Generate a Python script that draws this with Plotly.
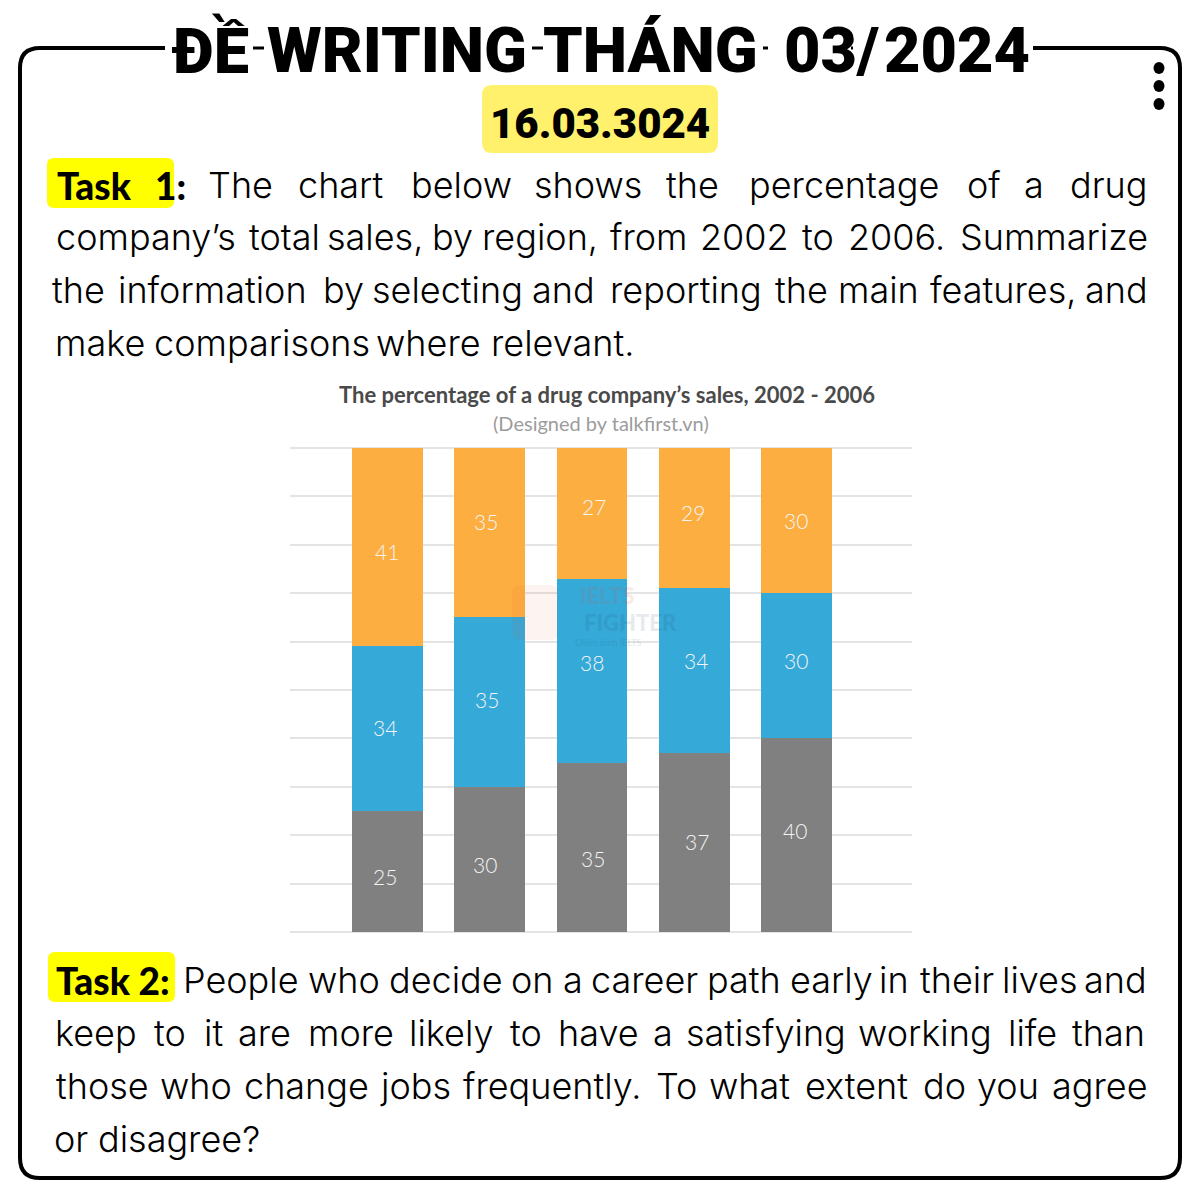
import plotly.graph_objs as go

# chart data
years = [2002, 2003, 2004, 2005, 2006]
gray_values = [25, 30, 35, 37, 40]
blue_values = [34, 35, 38, 34, 30]
orange_values = [41, 35, 27, 29, 30]
y_ticks = [0, 10, 20, 30, 40, 50, 60, 70, 80, 90, 100]

chart_title = "The percentage of a drug company’s sales, 2002 - 2006"
chart_subtitle = "(Designed by talkfirst.vn)"

# the value labels sit a bit off centre in the picture (x, y shift in pixels)
gray_shifts = [(-2, -5), (-5, -5), (1, -11), (3, 1), (-1, 5)]
blue_shifts = [(-2, 1), (-3, 3), (0, 8), (2, 10), (0, 5)]
orange_shifts = [(0, -4), (-4, 11), (2, 7), (-1, 6), (0, 0)]

# page text, word, left edge, right edge in pixels (lines are justified)
heading_words = [("ĐỀ", 173, 247), ("WRITING", 268, 525), ("THÁNG", 543, 757), ("03/", 782, 880), ("2024", 884, 1029)]

body_lines = [
    (185, [("The", 208, 272), ("chart", 298, 383), ("below", 411, 511), ("shows", 536, 640), ("the", 665, 720),
           ("percentage", 747, 940), ("of", 967, 1000), ("a", 1025, 1042), ("drug", 1070, 1147)]),
    (237, [("company’s", 56, 235), ("total", 248, 320), ("sales,", 335, 415), ("by", 435, 470), ("region,", 486, 594),
           ("from", 611, 686), ("2002", 700, 789), ("to", 804, 832), ("2006.", 846, 946), ("Summarize", 961, 1146)]),
    (290, [("the", 56, 101), ("information", 113, 311), ("by", 326, 361), ("selecting", 375, 519), ("and", 529, 597),
           ("reporting", 609, 762), ("the", 775, 827), ("main", 839, 918), ("features,", 930, 1075), ("and", 1087, 1145)]),
    (343, [("make", 56, 144), ("comparisons", 157, 367), ("where", 379, 477), ("relevant.", 489, 635)]),
    (980, [("People", 183, 299), ("who", 310, 378), ("decide", 390, 501), ("on", 513, 552), ("a", 565, 581),
           ("career", 592, 696), ("path", 707, 780), ("early", 791, 871), ("in", 882, 907), ("their", 918, 995),
           ("lives", 1005, 1075), ("and", 1086, 1145)]),
    (1033, [("keep", 56, 136), ("to", 154, 186), ("it", 204, 222), ("are", 239, 290), ("more", 308, 394),
            ("likely", 411, 492), ("to", 510, 542), ("have", 560, 636), ("a", 655, 671), ("satisfying", 689, 843),
            ("working", 859, 991), ("life", 1009, 1055), ("than", 1071, 1145)]),
    (1086, [("those", 56, 149), ("who", 161, 231), ("change", 244, 369), ("jobs", 381, 449), ("frequently.", 463, 641),
            ("To", 657, 696), ("what", 709, 789), ("extent", 804, 909), ("do", 923, 966), ("you", 979, 1037),
            ("agree", 1053, 1146)]),
    (1139, [("or", 56, 85), ("disagree?", 99, 258)]),
]


def px(x):
    return x / 1200


def py(y):
    return 1 - y / 1200


def box(x0, y0, x1, y1, r):
    # rounded rectangle path in paper coordinates
    return (f"M {px(x0 + r)} {py(y0)} L {px(x1 - r)} {py(y0)} Q {px(x1)} {py(y0)} {px(x1)} {py(y0 + r)} "
            f"L {px(x1)} {py(y1 - r)} Q {px(x1)} {py(y1)} {px(x1 - r)} {py(y1)} "
            f"L {px(x0 + r)} {py(y1)} Q {px(x0)} {py(y1)} {px(x0)} {py(y1 - r)} "
            f"L {px(x0)} {py(y0 + r)} Q {px(x0)} {py(y0)} {px(x0 + r)} {py(y0)} Z")


def label(text, x, y, size, color="#000000", weight=400, family="Lato", opacity=1):
    return dict(text=text, x=px(x), y=py(y), xref="paper", yref="paper", showarrow=False,
                xanchor="center", yanchor="middle", opacity=opacity,
                font=dict(family=family, size=size, color=color, weight=weight))


fig = go.Figure(data=[
    go.Bar(name="Gray", x=years, y=gray_values, marker_color="#808080"),
    go.Bar(name="Blue", x=years, y=blue_values, marker_color="#35A9D8"),
    go.Bar(name="Orange", x=years, y=orange_values, marker_color="#FCAE40"),
])

fig.update_traces(width=0.694, marker_line_width=0)

frame = (f"M {px(165)} {py(48)} L {px(40)} {py(48)} Q {px(20)} {py(48)} {px(20)} {py(68)} "
         f"L {px(20)} {py(1158)} Q {px(20)} {py(1178)} {px(40)} {py(1178)} "
         f"L {px(1160)} {py(1178)} Q {px(1180)} {py(1178)} {px(1180)} {py(1158)} "
         f"L {px(1180)} {py(68)} Q {px(1180)} {py(48)} {px(1160)} {py(48)} L {px(1033)} {py(48)}")

shapes = [dict(type="path", path=frame, xref="paper", yref="paper", line=dict(color="#000000", width=4), layer="below")]

# bits of the frame line showing between the heading words
for x0, x1 in [(253, 264), (532, 543), (763, 768), (851, 853)]:
    shapes.append(dict(type="line", x0=px(x0), x1=px(x1), y0=py(48), y1=py(48), xref="paper", yref="paper",
                       line=dict(color="#000000", width=3), layer="below"))

for path, color in [(box(482, 85, 718, 153, 10), "#FFF16C"), (box(47, 158, 174, 208, 7), "#FFFF00"),
                    (box(48, 952, 175, 1002, 7), "#FFFF00")]:
    shapes.append(dict(type="path", path=path, xref="paper", yref="paper", fillcolor=color, line_width=0, layer="below"))

for dot_y in [68, 86, 104]:
    shapes.append(dict(type="circle", xref="paper", yref="paper", x0=px(1153.5), x1=px(1164.5),
                       y0=py(dot_y - 6), y1=py(dot_y + 6), fillcolor="#000000", line_width=0))

# faint logo of the watermark
shapes.append(dict(type="path", path=box(512, 585, 558, 640, 8), xref="paper", yref="paper", fillcolor="#E8503A",
                   opacity=0.07, line_width=0))

notes = []
for word, left, right in heading_words:
    notes.append(label(word, (left + right) / 2, 51, 63, weight=900, family="Roboto"))
notes.append(label("16.03.3024", 600, 124, 42, weight=900, family="Roboto"))
notes.append(label("Task", 94, 185, 37, weight=900))
notes.append(label("1:", 170, 185, 37, weight=900))
notes.append(label("Task 2:", 113, 980, 37, weight=900))
for line_y, words in body_lines:
    for word, left, right in words:
        notes.append(label(word, (left + right) / 2, line_y, 36, weight=300, family="Inter"))

notes.append(label(chart_subtitle, 601, 423, 20, color="#9C9C9C"))

# value labels, placed from the stacked values
bottoms = [0, 0, 0, 0, 0]
for values, shifts in [(gray_values, gray_shifts), (blue_values, blue_shifts), (orange_values, orange_shifts)]:
    for i, v in enumerate(values):
        notes.append(dict(text=str(v), x=years[i], y=bottoms[i] + v / 2, xref="x", yref="y", showarrow=False,
                          xshift=shifts[i][0], yshift=shifts[i][1],
                          font=dict(family="Lato", size=21, color="#F4F4F4", weight=300)))
        bottoms[i] += v

# faint watermark over the bars
notes.append(label("IELTS", 607, 595, 22, color="#E8503A", weight=900, opacity=0.12))
notes.append(label("FIGHTER", 630, 622, 22, color="#1F3B5C", weight=900, opacity=0.1))
notes.append(label("Chiến binh IELTS", 609, 642, 9, color="#1F3B5C", opacity=0.12))

fig.update_layout(
    barmode="stack",
    width=1200,
    height=1200,
    margin=dict(l=0, r=0, t=0, b=0),
    paper_bgcolor="#FFFFFF",
    plot_bgcolor="#FFFFFF",
    showlegend=False,
    title=dict(text=chart_title, x=px(607), y=py(395), xref="paper", yref="paper", xanchor="center", yanchor="middle",
               font=dict(family="Lato", size=22, color="#4A4A4A", weight=700)),
    xaxis=dict(domain=[px(290), px(912)], range=[2001.0465, 2007.13], showticklabels=False, showgrid=False,
               zeroline=False, ticks=""),
    yaxis=dict(domain=[py(934), py(446)], range=[-0.4132, 100.4132], tickvals=y_ticks, showticklabels=False,
               showgrid=True, gridcolor="#E4E4E4", gridwidth=2, zeroline=False, ticks=""),
    shapes=shapes,
    annotations=notes,
)

fig.write_html("out.html", config={"displayModeBar": False}, post_script="document.body.style.margin='0'")
